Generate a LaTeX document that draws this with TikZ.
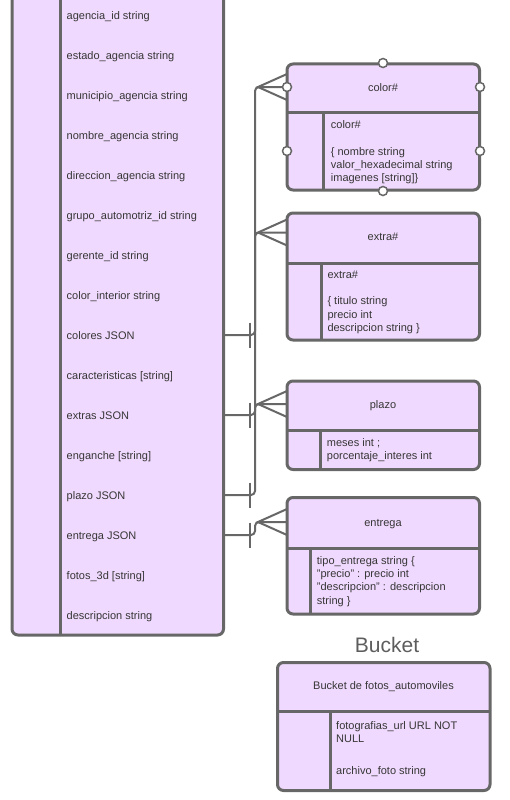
\documentclass[tikz,border=0pt]{standalone}
\usepackage{fontspec}
\setmainfont{Liberation Sans}
\definecolor{erFill}{HTML}{F0D9FE}
\definecolor{erLine}{HTML}{676767}
\definecolor{erText}{HTML}{363636}

\begin{document}
\begin{tikzpicture}[x=1pt,y=-1pt]
\tikzstyle{every node}+=[inner sep=0pt]
\tikzstyle{entity}=[draw=erLine, fill=erFill, line width=3pt, rounded corners=6pt]
\tikzstyle{rule}=[draw=erLine, line width=3pt]
\tikzstyle{link}=[draw=erLine, line width=2pt]
\tikzstyle{field}=[anchor=west, text=erText, font=\fontsize{11}{13.3}\selectfont, text height=11pt, text depth=2.5pt]
\tikzstyle{title}=[text=erText, font=\fontsize{11}{13.3}\selectfont, text height=11pt, text depth=2.5pt]
\tikzstyle{body}=[anchor=north west, align=left, text=erText, font=\fontsize{11}{13.3}\selectfont]
\tikzstyle{handle}=[draw=erLine, fill=white, line width=1.5pt]
\useasboundingbox (0,0) rectangle (510,800);
% main table, header is above the page
\draw[entity] (12,-30) rectangle (223.5,635);
\draw[rule] (60,-30) -- (60,635);
\node[field] (agenciaId) at (66.5,15) {agencia\_id string};
\node[field] (estadoAg) at (66.5,55) {estado\_agencia string};
\node[field] (municipioAg) at (66.5,95) {municipio\_agencia string};
\node[field] (nombreAg) at (66.5,135) {nombre\_agencia string};
\node[field] (direccionAg) at (66.5,175) {direccion\_agencia string};
\node[field] (grupoAuto) at (66.5,215) {grupo\_automotriz\_id string};
\node[field] (gerenteId) at (66.5,255) {gerente\_id string};
\node[field] (colorInt) at (66.5,295) {color\_interior string};
\node[field] (colores) at (66.5,335) {colores JSON};
\node[field] (caracteristicas) at (66.5,375) {caracteristicas [string]};
\node[field] (extras) at (66.5,415) {extras JSON};
\node[field] (enganche) at (66.5,455) {enganche [string]};
\node[field] (plazo) at (66.5,495) {plazo JSON};
\node[field] (entrega) at (66.5,535) {entrega JSON};
\node[field] (fotos3d) at (66.5,575) {fotos\_3d [string]};
\node[field] (descripcion) at (66.5,615) {descripcion string};
% color#
\draw[entity] (287,64) rectangle (479.5,190);
\draw[rule] (287,112) -- (479.5,112);
\draw[rule] (323,112) -- (323,190);
\node[title] (colorT) at (383,87) {color\#};
\node[body] (colorB) at (330.7,120.5) {color\#\\[13.3pt]\{ nombre string\\valor\_hexadecimal string\\imagenes [string]\}};
% extra#
\draw[entity] (287,213) rectangle (479.5,340);
\draw[rule] (287,263) -- (479.5,263);
\draw[rule] (321,263) -- (321,340);
\node[title] (extraT) at (383,236.5) {extra\#};
\node[body] (extraB) at (327.3,270.5) {extra\#\\[13.3pt]\{ titulo string\\precio int\\descripcion string \}};
% plazo
\draw[entity] (287,381) rectangle (479.5,469.5);
\draw[rule] (287,430) -- (479.5,430);
\draw[rule] (320,430) -- (320,469.5);
\node[title] (plazoT) at (383,404) {plazo};
\node[body] (plazoB) at (326.7,438) {meses int ;\\porcentaje\_interes int};
% entrega
\draw[entity] (287,497.5) rectangle (479.5,614);
\draw[rule] (287,548.5) -- (479.5,548.5);
\draw[rule] (310,548.5) -- (310,614);
\node[title] (entregaT) at (383,522) {entrega};
\node[body] (entregaB) at (316.7,556) {tipo\_entrega string \{\\"precio" : precio int\\"descripcion" : descripcion\\string \}};
% bucket
\node[text=erLine!90!black, font=\fontsize{21}{24}\selectfont] (bucketL) at (387,645) {Bucket};
\draw[entity] (277.5,662.5) rectangle (490,790.5);
\draw[rule] (277.5,711) -- (490,711);
\draw[rule] (330,711) -- (330,790.5);
\node[title] (bucketT) at (383.5,685) {Bucket de fotos\_automoviles};
\node[body] (bucketB) at (336,721) {fotografias\_url URL NOT\\NULL};
\node[field] (archivoF) at (336,770) {archivo\_foto string};
% handles on color#
\draw[handle] (383,63) circle[radius=4.5pt];
\draw[handle] (383,191) circle[radius=4.5pt];
\draw[handle] (287,87) circle[radius=4.5pt];
\draw[handle] (287,151) circle[radius=4.5pt];
\draw[handle] (480,87) circle[radius=4.5pt];
\draw[handle] (480,151) circle[radius=4.5pt];
% connectors
\coordinate (mainR) at (224,0);
\coordinate (tickX) at (250,0);
\coordinate (bus) at (255,0);
\coordinate (colorIn) at (282.5,87);
\coordinate (extraIn) at (287,232.5);
\coordinate (plazoIn) at (287,404);
\coordinate (entregaIn) at (287,522);
\draw[link, rounded corners=4pt] (colores -| mainR) -| (bus |- colorIn) -- (colorIn);
\draw[link, rounded corners=4pt] (extras -| mainR) -| (bus |- extraIn) -- (extraIn);
\draw[link, rounded corners=4pt] (plazo -| mainR) -| (bus |- plazoIn) -- (plazoIn);
\draw[link, rounded corners=4pt] (entrega -| mainR) -| (bus |- entregaIn) -- (entregaIn);
\draw[link] (tickX |- colores) ++(0,-12.5) -- ++(0,25);
\draw[link] (tickX |- extras) ++(0,-12.5) -- ++(0,25);
\draw[link] (tickX |- plazo) ++(0,-12.5) -- ++(0,25);
\draw[link] (tickX |- entrega) ++(0,-12.5) -- ++(0,25);
\draw[link] (287,74) -- (258,87) -- (287,100);
\draw[link] ([yshift=-13pt]extraIn) -- ([xshift=-29pt]extraIn) -- ([yshift=13pt]extraIn);
\draw[link] ([yshift=-13pt]plazoIn) -- ([xshift=-29pt]plazoIn) -- ([yshift=13pt]plazoIn);
\draw[link] ([yshift=-13pt]entregaIn) -- ([xshift=-29pt]entregaIn) -- ([yshift=13pt]entregaIn);
\end{tikzpicture}
\end{document}
